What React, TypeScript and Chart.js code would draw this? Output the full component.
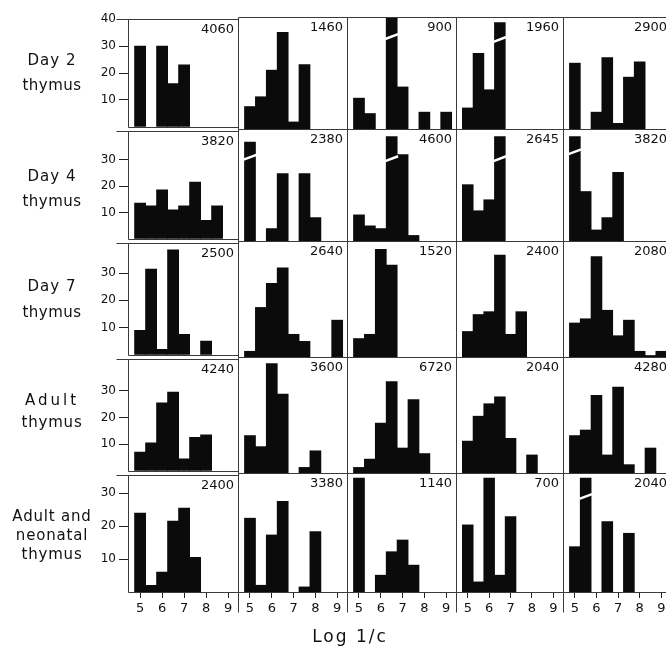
import React, { useEffect, useRef } from "react";
import { Chart, registerables } from "chart.js";

Chart.register(...registerables);

// ---------- data ----------
const binCenters = [5, 5.5, 6, 6.5, 7, 7.5, 8, 8.5, 9];
const xTickValues = [5, 6, 7, 8, 9];
const xAxisTitle = "Log 1/c";

const rowLabels = [
  ["Day 2", "thymus"],
  ["Day 4", "thymus"],
  ["Day 7", "thymus"],
  ["Adult", "thymus"],
  ["Adult and", "neonatal", "thymus"],
];

// percentages per bin (bins centred at binCenters), one array per panel
const day2Thymus = [
  [30, 0, 30, 16, 23, 0, 0, 0, 0],
  [8, 11.5, 21, 34.5, 2.5, 23, 0, 0, 0],
  [11, 5.5, 0, 41, 15, 0, 6, 0, 6],
  [7.5, 27, 14, 38, 0, 0, 0, 0, 0],
  [23.5, 0, 6, 25.5, 2, 18.5, 24, 0, 0],
];
const day2Counts = ["4060", "1460", "900", "1960", "2900"];
const day2Breaks = [null, null, { bin: 6.5, at: 33 }, { bin: 6.5, at: 32 }, null];

const day4Thymus = [
  [13.5, 12.5, 18.5, 11, 12.5, 21.5, 7, 12.5, 0],
  [36, 0, 4.5, 24.5, 0, 24.5, 8.5, 0, 0],
  [9.5, 5.5, 4.5, 38, 31.5, 2, 0, 0, 0],
  [20.5, 11, 15, 38, 0, 0, 0, 0, 0],
  [38, 18, 4, 8.5, 25, 0, 0, 0, 0],
];
const day4Counts = ["3820", "2380", "4600", "2645", "3820"];
const day4Breaks = [null, { bin: 5, at: 30.5 }, { bin: 6.5, at: 30 }, { bin: 6.5, at: 30 }, { bin: 5, at: 32.5 }];

const day7Thymus = [
  [9, 31.5, 2, 38.5, 7.5, 0, 5, 0, 0],
  [2, 17.5, 26, 31.5, 8, 5.5, 0, 0, 13],
  [6.5, 8, 38, 32.5, 0, 0, 0, 0, 0],
  [9, 15, 16, 36, 8, 16, 0, 0, 0],
  [12, 13.5, 35.5, 16.5, 7.5, 13, 2, 0.5, 2],
];
const day7Counts = ["2500", "2640", "1520", "2400", "2080"];
const day7Breaks = [null, null, null, null, null];

const adultThymus = [
  [7, 10.5, 25.5, 29.5, 4.5, 12.5, 13.5, 0, 0],
  [13.5, 9.5, 39.5, 28.5, 0, 2, 8, 0, 0],
  [2, 5, 18, 33, 9, 26.5, 7, 0, 0],
  [11.5, 20.5, 25, 27.5, 12.5, 0, 6.5, 0, 0],
  [13.5, 15.5, 28, 6.5, 31, 3, 0, 9, 0],
];
const adultCounts = ["4240", "3600", "6720", "2040", "4280"];
const adultBreaks = [null, null, null, null, null];

const adultNeonatalThymus = [
  [24, 2, 6, 21.5, 25.5, 10.5, 0, 0, 0],
  [22, 2, 17, 27, 0, 1.5, 18, 0, 0],
  [34, 0, 5, 12, 15.5, 8, 0, 0, 0],
  [20, 3, 34, 5, 22.5, 0, 0, 0, 0],
  [13.5, 34, 0, 21, 0, 17.5, 0, 0, 0],
];
const adultNeonatalCounts = ["2400", "3380", "1140", "700", "2040"];
const adultNeonatalBreaks = [null, null, null, null, { bin: 5.5, at: 28.5 }];

const rowValues = [day2Thymus, day4Thymus, day7Thymus, adultThymus, adultNeonatalThymus];
const rowCounts = [day2Counts, day4Counts, day7Counts, adultCounts, adultNeonatalCounts];
const rowBreaks = [day2Breaks, day4Breaks, day7Breaks, adultBreaks, adultNeonatalBreaks];
const rowYTicks = [[10, 20, 30, 40], [10, 20, 30], [10, 20, 30], [10, 20, 30], [10, 20, 30]];

// ---------- layout ----------
const colLeft = [128, 238, 347, 456, 563, 671];
const rowTop = [17, 129, 241, 357, 473, 592];
const rowYMax = [40, 40.8, 41, 41.9, 35.5];
const xMin = 4.45;
const xMax = 9.45;
const PAD = 8;
const Y_AXIS_W = 60;
const X_AXIS_H = 30;
const FONT = '"DejaVu Sans", "Liberation Sans", sans-serif';
const INK = "#0b0b0b";

const labelLayout = [
  { cy: 73, lh: 25, spacing: [1, 0.5] },
  { cy: 189, lh: 25, spacing: [1, 0.5] },
  { cy: 299, lh: 26, spacing: [1, 0.5] },
  { cy: 411, lh: 22, spacing: [3, 0.8] },
  { cy: 535, lh: 19, spacing: [0.8, 0.8, 0.8] },
];

type Brk = { bin: number; at: number } | null;

function Panel({ row, col }: { row: number; col: number }) {
  const ref = useRef<HTMLCanvasElement>(null);
  const extL = col === 0 ? Y_AXIS_W : 0;
  const extB = row === 4 ? X_AXIS_H : 0;
  const w = colLeft[col + 1] - colLeft[col];
  const h = rowTop[row + 1] - rowTop[row];
  const cw = w + extL + 2 * PAD;
  const ch = h + extB + 2 * PAD;

  useEffect(() => {
    const values = rowValues[row][col];
    const count = rowCounts[row][col];
    const brk: Brk = rowBreaks[row][col] as Brk;

    const panelPlugin = {
      id: "panelDeco",
      afterDatasetsDraw(chart: any) {
        if (!brk) return;
        const ctx = chart.ctx;
        const meta = chart.getDatasetMeta(0);
        const i = binCenters.indexOf(brk.bin);
        const el: any = meta.data[i];
        if (!el) return;
        const y = chart.scales.y.getPixelForValue(brk.at);
        ctx.save();
        ctx.strokeStyle = "#ffffff";
        ctx.lineWidth = 2.5;
        ctx.beginPath();
        ctx.moveTo(el.x - el.width / 2 - 1, y + 2.4);
        ctx.lineTo(el.x + el.width / 2 + 1, y - 2.4);
        ctx.stroke();
        ctx.restore();
      },
      afterDraw(chart: any) {
        const ctx = chart.ctx;
        const a = chart.chartArea;
        const l = Math.round(a.left) + 0.5;
        const r = Math.round(a.right) + 0.5;
        const t = Math.round(a.top) + 0.5;
        const b = Math.round(a.bottom) + 0.5;
        ctx.save();
        ctx.strokeStyle = "#3a3a3a";
        ctx.lineWidth = 1;
        ctx.beginPath();
        ctx.moveTo(l, t);
        ctx.lineTo(r, t);
        ctx.lineTo(r, b);
        ctx.lineTo(l, b);
        ctx.closePath();
        if (col === 0) {
          ctx.moveTo(l - 12, t);
          ctx.lineTo(l, t);
        }
        if (row === 4 && col > 0) {
          ctx.moveTo(l, b);
          ctx.lineTo(l, b + 20);
        }
        ctx.stroke();
        ctx.fillStyle = "#111";
        ctx.font = `13px ${FONT}`;
        ctx.textAlign = "right";
        ctx.textBaseline = "top";
        ctx.fillText(count, a.right - 4, a.top + 4);
        ctx.restore();
      },
    };

    const chart = new Chart(ref.current as HTMLCanvasElement, {
      type: "bar",
      data: {
        datasets: [
          {
            data: binCenters.map((x, i) => ({ x, y: values[i] > 0 ? values[i] : null })) as any,
            backgroundColor: INK,
            borderWidth: 0,
            barPercentage: 1,
            categoryPercentage: 1,
            inflateAmount: 0.4,
          } as any,
        ],
      },
      options: {
        responsive: false,
        animation: false,
        devicePixelRatio: 1,
        layout: { padding: { left: PAD, right: PAD, top: PAD, bottom: PAD } },
        plugins: { legend: { display: false }, tooltip: { enabled: false } },
        scales: {
          x: {
            type: "linear",
            min: xMin,
            max: xMax,
            offset: false,
            display: row === 4,
            border: { display: false },
            grid: { drawOnChartArea: false, drawTicks: true, tickLength: 6, color: "#222", offset: false },
            ticks: { font: { family: FONT, size: 13 }, color: "#111", padding: 3, autoSkip: false, maxRotation: 0 },
            afterBuildTicks: (s: any) => {
              s.ticks = xTickValues.map((v) => ({ value: v }));
            },
            afterFit: (s: any) => {
              s.height = extB;
            },
          },
          y: {
            type: "linear",
            min: 0,
            max: rowYMax[row],
            display: col === 0,
            border: { display: false },
            grid: { drawOnChartArea: false, drawTicks: true, tickLength: 9, color: "#222" },
            ticks: { font: { family: FONT, size: 12 }, color: "#111", padding: 3 },
            afterBuildTicks: (s: any) => {
              s.ticks = rowYTicks[row].map((v) => ({ value: v }));
            },
            afterFit: (s: any) => {
              s.width = extL;
            },
          },
        },
      } as any,
      plugins: [panelPlugin],
    });
    return () => chart.destroy();
  }, [row, col]);

  return (
    <canvas
      ref={ref}
      width={cw}
      height={ch}
      style={{
        position: "absolute",
        left: colLeft[col] - extL - PAD,
        top: rowTop[row] - PAD,
        width: cw,
        height: ch,
      }}
    />
  );
}

export default function App() {
  const panels: any[] = [];
  for (let r = 0; r < 5; r++) {
    for (let c = 0; c < 5; c++) {
      panels.push(<Panel key={`${r}-${c}`} row={r} col={c} />);
    }
  }
  return (
    <div
      style={{
        position: "fixed",
        left: 0,
        top: 0,
        width: 666,
        height: 647,
        overflow: "hidden",
        background: "#fff",
        fontFamily: FONT,
        color: "#111",
      }}
    >
      {panels}
      {rowLabels.map((lines, r) => {
        const lay = labelLayout[r];
        return (
          <div
            key={r}
            style={{
              position: "absolute",
              left: 0,
              width: 104,
              top: lay.cy - (lines.length * lay.lh) / 2,
              textAlign: "center",
              fontSize: 15,
              lineHeight: `${lay.lh}px`,
            }}
          >
            {lines.map((t, i) => (
              <div key={i} style={{ letterSpacing: lay.spacing[i] }}>
                {t}
              </div>
            ))}
          </div>
        );
      })}
      <div
        style={{
          position: "absolute",
          left: 250,
          width: 200,
          top: 626,
          textAlign: "center",
          fontSize: 17,
          letterSpacing: 2,
          lineHeight: "20px",
        }}
      >
        {xAxisTitle}
      </div>
    </div>
  );
}
